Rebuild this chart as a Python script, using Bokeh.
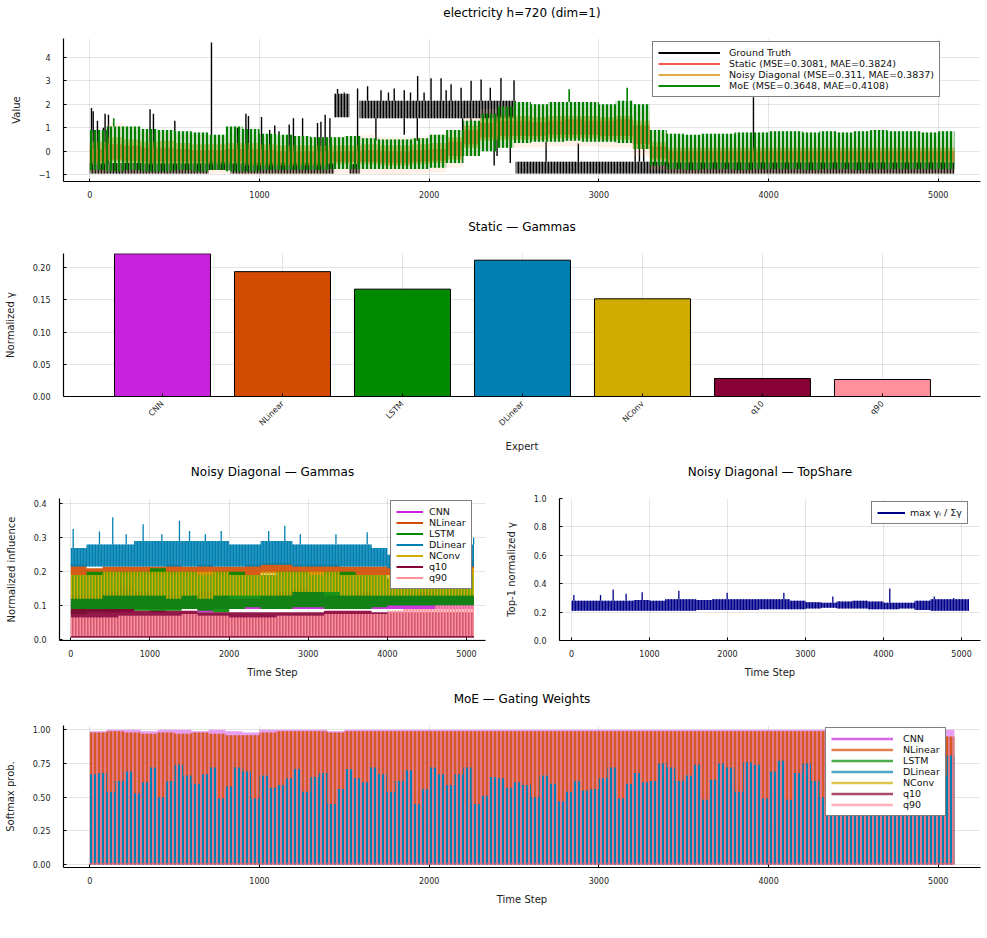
import math
from bokeh.plotting import figure
from bokeh.layouts import column, row
from bokeh.models import Range1d, FixedTicker, Legend, LegendItem, NumeralTickFormatter, Label
from bokeh.embed import file_html
from bokeh.resources import INLINE

FONT = "DejaVu Sans"
T_END = 5095
NAN = float("nan")

# ---------------- data ----------------
experts = ["CNN", "NLinear", "LSTM", "DLinear", "NConv", "q10", "q90"]
expert_colors = ["#c822dc", "#d24b00", "#008a00", "#0080b2", "#d0ac00", "#870036", "#ff8f9b"]
static_gammas = [0.2218, 0.1940, 0.1668, 0.2118, 0.1518, 0.0280, 0.0264]

# panel 1 : 100-step bins (51)
moe_lo = [-0.8, -0.85, -0.8, -0.85, -0.85, -0.8, -0.85, -0.8, -0.85, -0.85,
          -0.8, -0.8, -0.8, -0.8, -0.75, -0.75, -0.75, -0.75, -0.75, -0.75,
          -0.7, -0.5, -0.2, 0.0, 0.15, 0.35, 0.4, 0.4, 0.45, 0.4,
          0.4, 0.35, 0.1, -0.6, -0.75, -0.8, -0.75, -0.75, -0.8, -0.75,
          -0.75, -0.75, -0.8, -0.75, -0.75, -0.8, -0.75, -0.75, -0.75, -0.75,
          -0.75]
moe_hi = [0.9, 1.05, 1.05, 0.95, 0.9, 0.85, 0.8, 0.7, 1.05, 0.95,
          0.75, 0.7, 0.65, 0.6, 0.6, 0.65, 0.55, 0.5, 0.5, 0.55,
          0.7, 0.9, 1.3, 1.6, 1.9, 2.1, 2.0, 2.1, 2.1, 2.1,
          2.0, 2.15, 2.0, 0.9, 0.75, 0.7, 0.75, 0.75, 0.8, 0.8,
          0.85, 0.85, 0.8, 0.85, 0.8, 0.85, 0.9, 0.85, 0.85, 0.8,
          0.85]
moe_spk_t = [141, 2825, 3167]
moe_spk_top = [1.4, 2.64, 2.7]

static_lo = [-0.45, -0.35, -0.4, -0.45, -0.45, -0.45, -0.45, -0.45, -0.45, -0.5,
             -0.5, -0.5, -0.5, -0.5, -0.45, -0.45, -0.45, -0.5, -0.5, -0.45,
             -0.4, -0.2, 0.3, 0.6, 0.65, 0.65, 0.65, 0.7, 0.7, 0.7,
             0.65, 0.65, 0.3, -0.3, -0.4, -0.4, -0.4, -0.4, -0.4, -0.4,
             -0.4, -0.4, -0.4, -0.4, -0.4, -0.4, -0.4, -0.4, -0.4, -0.4,
             -0.4]
static_hi = [0.1, 0.3, 0.25, 0.15, 0.15, 0.1, 0.05, 0.05, 0.1, 0.1,
             0.05, 0.0, 0.0, 0.0, 0.0, 0.0, 0.05, 0.0, 0.0, 0.05,
             0.1, 0.4, 0.9, 1.2, 1.3, 1.3, 1.25, 1.3, 1.35, 1.3,
             1.3, 1.35, 1.1, 0.2, 0.0, 0.0, 0.0, 0.0, 0.0, 0.0,
             0.0, 0.0, 0.0, 0.0, 0.0, 0.0, 0.0, 0.0, 0.0, 0.0,
             0.0]
noisy_lo = [-0.55, -0.45, -0.5, -0.55, -0.55, -0.55, -0.55, -0.55, -0.55, -0.6,
            -0.6, -0.6, -0.6, -0.6, -0.55, -0.55, -0.55, -0.6, -0.6, -0.55,
            -0.5, -0.35, 0.15, 0.45, 0.5, 0.5, 0.5, 0.55, 0.55, 0.55,
            0.5, 0.5, 0.1, -0.4, -0.5, -0.5, -0.5, -0.5, -0.5, -0.5,
            -0.5, -0.5, -0.5, -0.5, -0.5, -0.5, -0.5, -0.5, -0.5, -0.5,
            -0.5]
noisy_hi = [0.4, 0.6, 0.5, 0.4, 0.45, 0.35, 0.3, 0.3, 0.35, 0.35,
            0.3, 0.25, 0.25, 0.25, 0.25, 0.25, 0.3, 0.25, 0.25, 0.3,
            0.35, 0.6, 1.1, 1.4, 1.5, 1.5, 1.45, 1.5, 1.5, 1.5,
            1.45, 1.5, 1.3, 0.4, 0.15, 0.15, 0.15, 0.15, 0.15, 0.15,
            0.15, 0.15, 0.15, 0.15, 0.15, 0.15, 0.15, 0.15, 0.15, 0.15,
            0.15]
rib_lo = [-0.95, -0.9, -0.95, -0.95, -0.95, -0.95, -0.95, -0.95, -0.95, -1.0,
          -1.0, -1.0, -1.0, -1.0, -0.95, -0.95, -0.95, -1.0, -1.0, -0.95,
          -0.9, -0.7, -0.2, 0.1, 0.15, 0.15, 0.15, 0.2, 0.2, 0.2,
          0.15, 0.15, -0.2, -0.8, -0.95, -0.95, -0.95, -0.95, -0.95, -0.95,
          -0.95, -0.95, -0.95, -0.95, -0.95, -0.95, -0.95, -0.95, -0.95, -0.95,
          -0.95]
rib_hi = [0.8, 1.2, 0.9, 0.8, 0.8, 0.7, 0.7, 0.6, 0.7, 0.7,
          0.6, 0.6, 0.6, 0.6, 0.6, 0.6, 0.7, 0.6, 0.6, 0.6,
          0.7, 0.9, 1.4, 1.8, 1.9, 1.9, 1.9, 1.9, 1.9, 1.9,
          1.9, 1.9, 1.7, 0.8, 0.5, 0.5, 0.5, 0.5, 0.5, 0.5,
          0.5, 0.5, 0.5, 0.5, 0.5, 0.5, 0.5, 0.5, 0.5, 0.5,
          0.5]

# ground truth: regimes + spikes + dips
gt_t0 = [0, 700, 830, 1440, 1530, 1590, 2510]
gt_t1 = [700, 830, 1440, 1530, 1590, 2510, 5095]
gt_lo = [-0.95, -0.8, -0.95, 1.45, -0.95, 1.4, -0.95]
gt_hi = [-0.5, -0.45, -0.5, 2.45, -0.55, 2.15, -0.45]
gt_spk_t = [10, 20, 45, 80, 90, 110, 355, 375, 501, 717, 870, 920, 935, 1012, 1060,
            1090, 1115, 1175, 1200, 1254, 1342, 1362, 1387, 1415, 1460, 1500,
            1578, 1637, 1716, 1760, 1794, 1853, 1890, 1932, 1970, 2011, 2070, 2100,
            2129, 2188, 2247, 2306, 2360, 2423, 2500,
            2689, 2879, 3214, 3239, 3264, 3911]
gt_spk_top = [1.84, 1.7, 1.3, 1.0, 1.6, 1.55, 1.79, 1.6, 1.3, 4.62, 1.0, 1.6, 1.5, 1.46, 0.9,
              1.1, 0.85, 1.14, 1.4, 1.4, 1.2, 1.26, 1.55, 1.4, 2.65, 2.5,
              2.67, 2.77, 2.6, 2.5, 2.67, 2.6, 2.5, 3.2, 2.5, 3.1, 3.1, 2.6,
              2.85, 2.7, 3.0, 3.05, 2.7, 3.12, 3.02,
              0.4, 0.33, 0.47, 0.5, 0.27, 2.3]
gt_dip_t = [1686, 1853, 1930, 2197, 2246, 2383, 2400, 2478]
gt_dip_bot = [0.45, 0.7, 0.45, -0.5, 0.05, -0.6, -0.2, -0.5]

# panel 3 : noisy diagonal gammas, 200-step bins (26)
nd_cnn_lo = [0.09, 0.09, 0.08, 0.08, 0.09, 0.09, 0.09, 0.09, 0.08, 0.09,
             0.09, 0.09, 0.09, 0.09, 0.09, 0.09, 0.09, 0.09, 0.09, 0.09,
             0.09, 0.09, 0.09, 0.09, 0.09, 0.09]
nd_cnn_hi = [0.13, 0.13, 0.14, 0.155, 0.14, 0.13, 0.13, 0.13, 0.14, 0.13,
             0.12, 0.12, 0.13, 0.14, 0.15, 0.14, 0.13, 0.13, 0.14, 0.13,
             0.13, 0.13, 0.14, 0.13, 0.13, 0.13]
nd_nl_lo = [0.19, 0.19, 0.19, 0.19, 0.19, 0.19, 0.19, 0.19, 0.19, 0.19,
            0.19, 0.19, 0.195, 0.195, 0.195, 0.19, 0.19, 0.19, 0.19, 0.19,
            0.19, 0.19, 0.19, 0.19, 0.19, 0.19]
nd_nl_hi = [0.22, 0.21, 0.215, 0.215, 0.215, 0.215, 0.22, 0.215, 0.22, 0.215,
            0.215, 0.22, 0.225, 0.225, 0.22, 0.22, 0.22, 0.215, 0.215, 0.215,
            0.215, 0.22, 0.215, 0.215, 0.215, 0.235]
nd_lstm_lo = [0.075, 0.08, 0.08, 0.085, 0.085, 0.08, 0.085, 0.09, 0.085, 0.08,
              0.09, 0.095, 0.09, 0.09, 0.095, 0.095, 0.09, 0.09, 0.09, 0.095,
              0.1, 0.1, 0.1, 0.1, 0.1, 0.1]
nd_lstm_hi = [0.19, 0.2, 0.2, 0.2, 0.2, 0.21, 0.2, 0.2, 0.19, 0.2,
              0.2, 0.19, 0.19, 0.2, 0.2, 0.19, 0.2, 0.2, 0.19, 0.19,
              0.18, 0.18, 0.19, 0.19, 0.19, 0.19]
nd_dl_lo = [0.215, 0.215, 0.215, 0.215, 0.215, 0.215, 0.215, 0.215, 0.215, 0.215,
            0.215, 0.215, 0.22, 0.22, 0.215, 0.215, 0.215, 0.215, 0.215, 0.215,
            0.21, 0.21, 0.215, 0.215, 0.215, 0.215]
nd_dl_hi = [0.27, 0.28, 0.28, 0.28, 0.29, 0.29, 0.29, 0.29, 0.29, 0.29,
            0.28, 0.28, 0.29, 0.29, 0.28, 0.28, 0.28, 0.28, 0.28, 0.27,
            0.25, 0.25, 0.26, 0.27, 0.27, 0.28]
nd_dl_spk_t = [30, 362, 530, 700, 914, 1150, 1373, 1500, 1700, 1900, 2500, 2704, 2900, 3350, 3745, 5090]
nd_dl_spk_top = [0.326, 0.318, 0.36, 0.31, 0.34, 0.31, 0.35, 0.32, 0.31, 0.32, 0.32, 0.335, 0.31, 0.31, 0.316, 0.30]
nd_nconv_lo = [0.12, 0.12, 0.13, 0.13, 0.13, 0.13, 0.12, 0.13, 0.12, 0.13,
               0.13, 0.13, 0.13, 0.13, 0.14, 0.14, 0.14, 0.13, 0.13, 0.13,
               0.13, 0.13, 0.13, 0.13, 0.13, 0.13]
nd_nconv_hi = [0.19, 0.19, 0.2, 0.2, 0.2, 0.2, 0.2, 0.2, 0.2, 0.2,
               0.19, 0.19, 0.2, 0.2, 0.2, 0.2, 0.2, 0.19, 0.19, 0.19,
               0.19, 0.19, 0.19, 0.2, 0.2, 0.21]
nd_q10_lo = [0.005, 0.005, 0.005, 0.005, 0.005, 0.005, 0.005, 0.005, 0.005, 0.005,
             0.005, 0.005, 0.005, 0.005, 0.005, 0.005, 0.005, 0.005, 0.005, 0.005,
             0.005, 0.005, 0.005, 0.005, 0.005, 0.005]
nd_q10_hi = [0.09, 0.09, 0.09, 0.09, 0.085, 0.085, 0.085, 0.085, 0.08, 0.08,
             0.08, 0.08, 0.08, 0.08, 0.08, 0.08, 0.085, 0.085, 0.085, 0.08,
             0.08, 0.08, 0.08, 0.08, 0.08, 0.08]
nd_q90_lo = [0.01, 0.01, 0.01, 0.01, 0.01, 0.01, 0.01, 0.01, 0.01, 0.01,
             0.01, 0.01, 0.01, 0.01, 0.01, 0.01, 0.01, 0.01, 0.01, 0.01,
             0.01, 0.01, 0.01, 0.01, 0.01, 0.01]
nd_q90_hi = [0.065, 0.065, 0.065, 0.07, 0.07, 0.07, 0.07, 0.075, 0.07, 0.07,
             0.065, 0.065, 0.065, 0.07, 0.07, 0.07, 0.075, 0.075, 0.075, 0.075,
             0.085, 0.09, 0.09, 0.1, 0.1, 0.1]

# panel 4 : top share, 200-step bins (26)
ts_lo = [0.21, 0.21, 0.21, 0.21, 0.21, 0.21, 0.21, 0.21, 0.215, 0.215,
         0.215, 0.215, 0.22, 0.22, 0.22, 0.225, 0.23, 0.225, 0.225, 0.22,
         0.22, 0.225, 0.215, 0.21, 0.21, 0.21]
ts_hi = [0.28, 0.28, 0.28, 0.28, 0.285, 0.28, 0.29, 0.29, 0.285, 0.29,
         0.29, 0.29, 0.29, 0.29, 0.28, 0.27, 0.265, 0.275, 0.28, 0.275,
         0.265, 0.265, 0.28, 0.29, 0.29, 0.29]
ts_spk_t = [30, 372, 534, 700, 906, 1376, 1995, 2722, 3350, 4080, 4650, 4900]
ts_spk_top = [0.32, 0.32, 0.36, 0.33, 0.34, 0.35, 0.336, 0.336, 0.31, 0.366, 0.31, 0.30]

# panel 5 : MoE gating weights
moe_dl_hi = [0.67, 0.68, 0.54, 0.62, 0.69, 0.53, 0.61, 0.72, 0.50, 0.62,
             0.74, 0.66, 0.60, 0.67, 0.72, 0.49, 0.58, 0.72, 0.69, 0.49,
             0.66, 0.57, 0.59, 0.64, 0.71, 0.54, 0.65, 0.68, 0.45, 0.56,
             0.71, 0.64, 0.61, 0.72, 0.67, 0.54, 0.62, 0.70, 0.45, 0.56,
             0.72, 0.67, 0.59, 0.67, 0.72, 0.45, 0.51, 0.65, 0.64, 0.57,
             0.61, 0.59, 0.50, 0.66, 0.60, 0.47, 0.54, 0.62, 0.55, 0.56,
             0.64, 0.72, 0.49, 0.60, 0.68, 0.61, 0.62, 0.75, 0.72, 0.62,
             0.66, 0.74, 0.48, 0.63, 0.75, 0.72, 0.54, 0.76, 0.74, 0.49,
             0.69, 0.77, 0.48, 0.68, 0.75, 0.62, 0.50, 0.66, 0.72, 0.55,
             0.64, 0.70, 0.50, 0.60, 0.68, 0.72, 0.52, 0.62, 0.70, 0.58,
             0.66, 0.81]  # 50-step bins (102)
moe_cnn_hi = [0.99, 1.0, 1.0, 0.99, 1.0, 1.0, 0.99, 1.0, 0.99, 0.98,
              1.0, 1.0, 1.0, 1.0, 0.99, 1.0, 1.0, 1.0, 1.0, 1.0,
              1.0, 1.0, 1.0, 1.0, 1.0, 1.0, 1.0, 1.0, 1.0, 1.0,
              1.0, 1.0, 1.0, 1.0, 1.0, 1.0, 1.0, 1.0, 1.0, 1.0,
              1.0, 1.0, 1.0, 1.0, 1.0, 1.0, 1.0, 1.0, 1.0, 1.0,
              1.0]
moe_nl_hi = [0.98, 0.99, 0.98, 0.97, 0.98, 0.97, 0.98, 0.97, 0.96, 0.96,
             0.98, 0.99, 0.99, 0.99, 0.98, 0.99, 0.99, 0.99, 0.99, 0.99,
             0.99, 0.99, 0.99, 0.99, 0.99, 0.99, 0.99, 0.99, 0.99, 0.99,
             0.99, 0.99, 0.99, 0.99, 0.99, 0.99, 0.99, 0.99, 0.99, 0.99,
             0.99, 0.99, 0.99, 0.99, 0.99, 0.99, 0.99, 0.99, 0.99, 0.98,
             0.95]
moe_small_hi = [0.012, 0.012, 0.01, 0.01, 0.01, 0.01, 0.01, 0.01, 0.01, 0.01, 0.012]  # 500-step bins (11)


# ---------------- helpers ----------------
def bins(n, step):
    left = [i * step for i in range(n)]
    right = [min((i + 1) * step, T_END) for i in range(n)]
    return left, right


def step_xy(left, right, vals):
    xs, ys = [], []
    for l, r, v in zip(left, right, vals):
        xs += [l, r]
        ys += [v, v]
    return xs, ys


def band(p, left, right, lo, hi, **kw):
    xs, y1 = step_xy(left, right, lo)
    _, y2 = step_xy(left, right, hi)
    return p.varea(x=xs, y1=y1, y2=y2, **kw)


def blocks(p, left, right, lo, hi, **kw):
    return p.quad(left=left, right=right, bottom=lo, top=hi, line_color=None, **kw)


def title_fig(text, w, h, lb, rb):
    t = figure(width=w, height=h, x_range=Range1d(0, 1), y_range=Range1d(0, 1),
               output_backend="svg", toolbar_location=None, title=None,
               x_axis_location=None, y_axis_location=None,
               min_border_left=lb, min_border_right=rb, min_border_top=0, min_border_bottom=0)
    t.grid.visible = False
    t.outline_line_color = None
    t.add_layout(Label(x=0.5, y=0.5, text=text, text_align="center", text_baseline="middle",
                       text_font=FONT, text_font_size="12px", text_color="black"))
    return t


def make_fig(w, h, lb, rb, tb, bb, xr, yr):
    p = figure(width=w, height=h, x_range=Range1d(*xr), y_range=Range1d(*yr),
               output_backend="svg", toolbar_location=None, title=None,
               min_border_left=lb, min_border_right=rb, min_border_top=tb, min_border_bottom=bb)
    p.outline_line_color = None
    for ax in (p.xaxis[0], p.yaxis[0]):
        ax.axis_line_color = "black"
        ax.axis_line_width = 1.2
        ax.major_tick_in = 3
        ax.major_tick_out = 0
        ax.major_tick_line_color = "black"
        ax.minor_tick_line_color = None
        ax.major_label_text_font = FONT
        ax.major_label_text_font_size = "8px"
        ax.major_label_text_color = "#222222"
        ax.axis_label_text_font = FONT
        ax.axis_label_text_font_size = "10px"
        ax.axis_label_text_font_style = "normal"
        ax.axis_label_text_color = "#222222"
    p.yaxis.major_label_standoff = 13
    p.xaxis.major_label_standoff = 9
    p.yaxis.axis_label_standoff = 14
    p.xaxis.axis_label_standoff = 7
    p.grid.grid_line_color = "black"
    p.grid.grid_line_alpha = 0.1
    p.grid.grid_line_width = 1
    return p


def add_legend(p, labels, cols, loc, glyph_w, standoff, width=2.0, alpha=1.0):
    items = []
    for lab, c in zip(labels, cols):
        r = p.line(x=[NAN, NAN], y=[NAN, NAN], line_color=c, line_width=width, line_alpha=alpha)
        items.append(LegendItem(label=lab, renderers=[r]))
    leg = Legend(items=items, location=loc, orientation="vertical")
    leg.glyph_width = glyph_w
    leg.glyph_height = 11
    leg.label_height = 11
    leg.spacing = 0
    leg.padding = 5
    leg.margin = 0
    leg.label_standoff = standoff
    leg.label_text_font = FONT
    leg.label_text_font_size = "9.5px"
    leg.label_text_color = "#111111"
    leg.border_line_color = "black"
    leg.border_line_width = 1
    leg.background_fill_color = "white"
    leg.background_fill_alpha = 1
    p.add_layout(leg, "center")


time_ticks = [0, 1000, 2000, 3000, 4000, 5000]

# ---------------- panel 1 ----------------
t1 = title_fig("electricity h=720 (dim=1)", 987, 24, 63, 7)
p1 = make_fig(987, 186, 63, 7, 14, 29, (-155, 5249), (-1.285, 4.795))
p1.xaxis.ticker = FixedTicker(ticks=time_ticks)
p1.yaxis.ticker = FixedTicker(ticks=[-1, 0, 1, 2, 3, 4])
p1.yaxis.major_label_overrides = {-1: "\u22121"}
p1.yaxis.axis_label = "Value"

blocks(p1, gt_t0, gt_t1, gt_lo, gt_hi, fill_color="black", fill_alpha=0.5,
       hatch_pattern="|", hatch_color="black", hatch_scale=3, hatch_weight=1.5, hatch_alpha=1.0)


def regime(t, arr):
    for a, b, v in zip(gt_t0, gt_t1, arr):
        if a <= t < b:
            return v
    return arr[-1]


p1.segment(x0=gt_spk_t, y0=[regime(t, gt_hi) for t in gt_spk_t], x1=gt_spk_t, y1=gt_spk_top,
           line_color="black", line_width=1.4)
p1.segment(x0=gt_dip_t, y0=[regime(t, gt_lo) for t in gt_dip_t], x1=gt_dip_t, y1=gt_dip_bot,
           line_color="black", line_width=1.4)

L1, R1 = bins(51, 100)
band(p1, L1, R1, static_lo, static_hi, fill_color="#f04a40", fill_alpha=0.8)
band(p1, L1, R1, rib_lo, rib_hi, fill_color="#f5a060", fill_alpha=0.15)
band(p1, L1, R1, noisy_lo, noisy_hi, fill_color="#e0a030", fill_alpha=0.55)
band(p1, L1, R1, moe_lo, moe_hi, fill_color="#008000", fill_alpha=0.22,
     hatch_pattern="|", hatch_color="#008000", hatch_scale=4, hatch_weight=2.0, hatch_alpha=1.0)
p1.segment(x0=moe_spk_t, y0=[moe_hi[int(t // 100)] for t in moe_spk_t], x1=moe_spk_t, y1=moe_spk_top,
           line_color="#008000", line_width=1.6)
add_legend(p1, ["Ground Truth", "Static (MSE=0.3081, MAE=0.3824)",
                "Noisy Diagonal (MSE=0.311, MAE=0.3837)", "MoE (MSE=0.3648, MAE=0.4108)"],
           ["black", "#f25a50", "#e3a848", "#0a8a0a"], (589, 84), 62, 9)

# ---------------- panel 2 ----------------
t2 = title_fig("Static \u2014 Gammas", 987, 32, 63, 7)
p2 = make_fig(987, 218, 63, 7, 11, 64, (0.175, 7.817), (0, 0.2222))
xpos = list(range(1, len(experts) + 1))
p2.vbar(x=xpos, top=static_gammas, width=0.8, fill_color=expert_colors, line_color="black", line_width=1)
p2.xaxis.ticker = FixedTicker(ticks=xpos)
p2.xaxis.major_label_overrides = {i: e for i, e in zip(xpos, experts)}
p2.xaxis.major_label_orientation = math.pi / 4
p2.xaxis.major_label_standoff = 6
p2.yaxis.ticker = FixedTicker(ticks=[0, 0.05, 0.1, 0.15, 0.2])
p2.yaxis.formatter = NumeralTickFormatter(format="0.00")
p2.xaxis.axis_label = "Expert"
p2.yaxis.axis_label = "Normalized \u03b3"

# ---------------- panel 3 ----------------
t3 = title_fig("Noisy Diagonal \u2014 Gammas", 495, 22, 59, 10)
p3 = make_fig(495, 208, 59, 10, 16, 50, (-143, 5240), (-0.003, 0.4156))
p3.xaxis.ticker = FixedTicker(ticks=time_ticks)
p3.yaxis.ticker = FixedTicker(ticks=[0, 0.1, 0.2, 0.3, 0.4])
p3.yaxis.formatter = NumeralTickFormatter(format="0.0")
p3.xaxis.axis_label = "Time Step"
p3.yaxis.axis_label = "Normalized influence"
L3, R3 = bins(26, 200)
nd_series = [(nd_cnn_lo, nd_cnn_hi), (nd_nl_lo, nd_nl_hi), (nd_lstm_lo, nd_lstm_hi),
             (nd_dl_lo, nd_dl_hi), (nd_nconv_lo, nd_nconv_hi), (nd_q10_lo, nd_q10_hi),
             (nd_q90_lo, nd_q90_hi)]
for k, ((lo, hi), c) in enumerate(zip(nd_series, expert_colors)):
    name = experts[k]
    if name == "NConv":
        band(p3, L3, R3, lo, hi, fill_color=c, fill_alpha=0.45,
             hatch_pattern="|", hatch_color=c, hatch_scale=3, hatch_weight=1.6, hatch_alpha=1.0)
    elif name == "q90":
        band(p3, L3, R3, lo, hi, fill_color=c, fill_alpha=0.55,
             hatch_pattern="|", hatch_color=c, hatch_scale=3, hatch_weight=1.8, hatch_alpha=1.0)
    elif name == "DLinear":
        band(p3, L3, R3, lo, hi, fill_color=c, fill_alpha=0.85,
             hatch_pattern="|", hatch_color=c, hatch_scale=3, hatch_weight=1.5, hatch_alpha=1.0)
        p3.segment(x0=nd_dl_spk_t, y0=[hi[int(t // 200)] for t in nd_dl_spk_t], x1=nd_dl_spk_t,
                   y1=nd_dl_spk_top, line_color=c, line_width=1.3)
    else:
        band(p3, L3, R3, lo, hi, fill_color=c, fill_alpha=0.9)
add_legend(p3, experts, expert_colors, (331, 51), 27, 6)

# ---------------- panel 4 ----------------
t4 = title_fig("Noisy Diagonal \u2014 TopShare", 492, 22, 64, 7)
p4 = make_fig(492, 208, 64, 7, 16, 50, (-154, 5243), (0, 1.0))
p4.xaxis.ticker = FixedTicker(ticks=time_ticks)
p4.yaxis.ticker = FixedTicker(ticks=[0, 0.2, 0.4, 0.6, 0.8, 1.0])
p4.yaxis.formatter = NumeralTickFormatter(format="0.0")
p4.xaxis.axis_label = "Time Step"
p4.yaxis.axis_label = "Top-1 normalized \u03b3"
band(p4, L3, R3, ts_lo, ts_hi, fill_color="#00008b", fill_alpha=0.75,
     hatch_pattern="|", hatch_color="#00008b", hatch_scale=3, hatch_weight=1.5, hatch_alpha=1.0)
p4.segment(x0=ts_spk_t, y0=[ts_hi[int(t // 200)] for t in ts_spk_t], x1=ts_spk_t, y1=ts_spk_top,
           line_color="#00008b", line_width=1.3)
add_legend(p4, ["max \u03b3\u1d62 / \u03a3\u03b3"], ["#00008b"], (312, 116), 28, 5)

# ---------------- panel 5 ----------------
t5 = title_fig("MoE \u2014 Gating Weights", 987, 16, 63, 7)
p5 = make_fig(987, 232, 63, 7, 19, 71, (-155, 5249), (-0.022, 1.032))
p5.xaxis.ticker = FixedTicker(ticks=time_ticks)
p5.yaxis.ticker = FixedTicker(ticks=[0, 0.25, 0.5, 0.75, 1.0])
p5.yaxis.formatter = NumeralTickFormatter(format="0.00")
p5.xaxis.axis_label = "Time Step"
p5.yaxis.axis_label = "Softmax prob."
L5, R5 = bins(51, 100)
zeros51 = [0.0 for _ in moe_cnn_hi]
band(p5, L5, R5, zeros51, moe_cnn_hi, fill_color="#d040e0", fill_alpha=0.5)
band(p5, L5, R5, zeros51, moe_nl_hi, fill_color="#e05a30", fill_alpha=0.55,
     hatch_pattern="|", hatch_color="#d04a00", hatch_scale=4, hatch_weight=1.6, hatch_alpha=0.9)
Lb, Rb = bins(102, 50)
band(p5, Lb, Rb, [0.0 for _ in moe_dl_hi], moe_dl_hi, fill_alpha=0.0,
     hatch_pattern="|", hatch_color="#0080b2", hatch_scale=4, hatch_weight=2.0, hatch_alpha=1.0)
Ls, Rs = bins(11, 500)
band(p5, Ls, Rs, [0.0 for _ in moe_small_hi], moe_small_hi, fill_color="#e0607a", fill_alpha=0.8)
add_legend(p5, experts, expert_colors, (762, 51), 62, 10, width=2.5, alpha=0.7)

layout = column(t1, p1, t2, p2,
                row(column(t3, p3, spacing=0), column(t4, p4, spacing=0), spacing=0),
                t5, p5, spacing=0)
open("out.html", "w").write(file_html(layout, INLINE))
